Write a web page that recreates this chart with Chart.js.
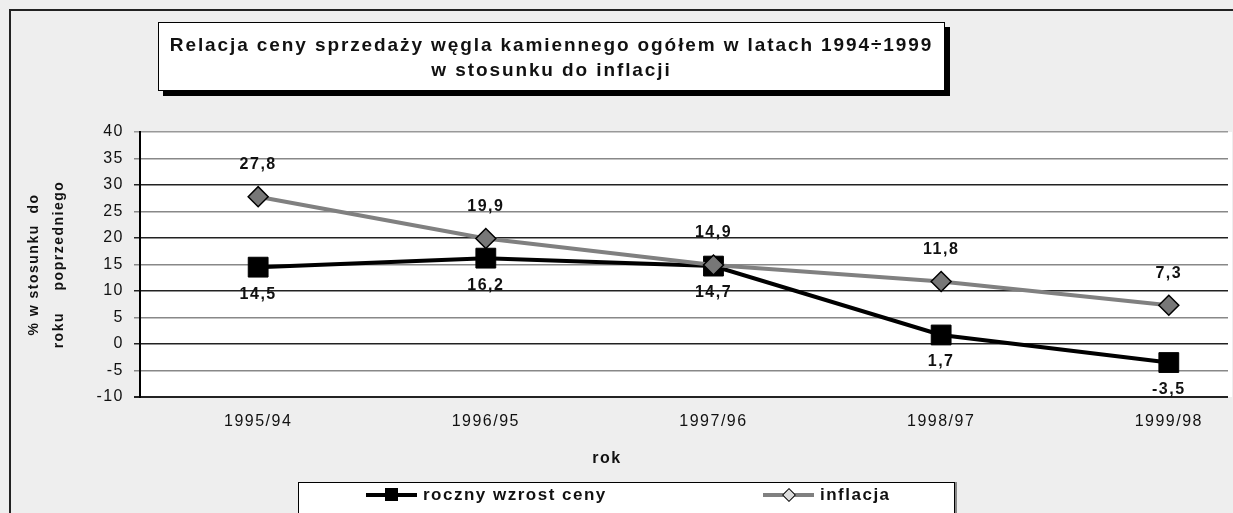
<!DOCTYPE html>
<html>
<head>
<meta charset="utf-8">
<script src="https://cdn.jsdelivr.net/npm/chart.js@4.4.1/dist/chart.umd.min.js"></script>
<style>
  html, body { margin: 0; padding: 0; width: 1233px; height: 513px; overflow: hidden; background: #eeeeee; font-family: "Liberation Sans", Arial, sans-serif; }
  #frame { position: absolute; left: 9px; top: 9px; width: 1300px; height: 600px; border: 2px solid #222; }
  #chart { position: absolute; left: 0; top: 0; }
  #title { position: absolute; left: 158px; top: 22px; width: 785px; height: 58px; padding-top: 9px; background: #fff; border: 1px solid #000; box-shadow: 5px 5px 0 #000; text-align: center; font-weight: bold; font-size: 19px; letter-spacing: 1.9px; line-height: 25px; color: #111; }
  #legend { position: absolute; left: 298px; top: 482px; width: 655px; height: 50px; background: #fff; border: 1px solid #000; box-shadow: 2px 0 0 #888; }
  .item { position: absolute; top: 2px; height: 20px; display: flex; align-items: center; font-weight: bold; font-size: 17px; letter-spacing: 1.5px; color: #111; }
  .sw { position: relative; width: 51px; height: 20px; margin-right: 6px; }
  .sw .ln { position: absolute; left: 0; right: 0; top: 8px; height: 4px; }
  .sw .sq { position: absolute; left: 19px; top: 3px; width: 13px; height: 13px; background: #000; }
  .sw .dm { position: absolute; left: 21px; top: 5px; width: 8px; height: 8px; background: #ddd; border: 1.5px solid #000; transform: rotate(45deg); }
</style>
</head>
<body>
<div id="frame"></div>
<canvas id="chart" width="1233" height="513"></canvas>
<div id="title">Relacja ceny sprzedaży węgla kamiennego ogółem w latach 1994÷1999<br>w stosunku do inflacji</div>
<div id="legend"></div>
<script>
const years = ['1995/94', '1996/95', '1997/96', '1998/97', '1999/98'];
const rocznyWzrost = [14.5, 16.2, 14.7, 1.7, -3.5];
const inflacja = [27.8, 19.9, 14.9, 11.8, 7.3];
const yMin = -10;
const yMax = 40;
const yStep = 5;
const seriesNames = ['roczny wzrost ceny', 'inflacja'];

const fontFamily = '"Liberation Sans", Arial, sans-serif';
Chart.defaults.font.family = fontFamily;
Chart.defaults.color = '#111';

// old excel look: wide letter spacing on every canvas text
const spacing = {
    id: 'spacing',
    beforeUpdate(chart) { chart.ctx.letterSpacing = '1.5px'; },
    beforeDraw(chart) {
        const ctx = chart.ctx;
        const a = chart.chartArea;
        ctx.letterSpacing = '1.5px';
        ctx.save();
        ctx.fillStyle = '#fff';
        ctx.fillRect(a.left, a.top, a.right - a.left + 4, a.bottom - a.top);
        ctx.restore();
    }
};

const valueLabels = {
    id: 'valueLabels',
    afterDatasetsDraw(chart) {
        const ctx = chart.ctx;
        ctx.save();
        ctx.font = 'bold 16px ' + fontFamily;
        ctx.fillStyle = '#111';
        ctx.textAlign = 'center';
        ctx.textBaseline = 'middle';
        chart.data.datasets.forEach((ds, i) => {
            const meta = chart.getDatasetMeta(i);
            meta.data.forEach((pt, j) => {
                const txt = ds.data[j].y.toFixed(1).replace('.', ',');
                ctx.fillText(txt, pt.x, pt.y + ds.labelOffset);
            });
        });
        ctx.fillText('rok', 607, 459);
        ctx.restore();
    }
};

const chart = new Chart(document.getElementById('chart'), {
    type: 'line',
    data: {
        datasets: [{
            label: seriesNames[0],
            data: rocznyWzrost.map((v, i) => ({ x: i, y: v })),
            borderColor: '#000',
            borderWidth: 4,
            pointStyle: 'rect',
            pointRadius: 14,
            pointBackgroundColor: '#000',
            pointBorderColor: '#000',
            pointBorderWidth: 1,
            tension: 0,
            order: 1,
            labelOffset: 27
        }, {
            label: seriesNames[1],
            data: inflacja.map((v, i) => ({ x: i, y: v })),
            borderColor: '#808080',
            borderWidth: 4,
            pointStyle: 'rectRot',
            pointRadius: 10,
            pointBackgroundColor: '#777',
            pointBorderColor: '#000',
            pointBorderWidth: 1.5,
            tension: 0,
            order: 0,
            labelOffset: -32
        }]
    },
    options: {
        responsive: false,
        animation: false,
        devicePixelRatio: 1,
        layout: { autoPadding: false, padding: { left: 22, top: 132, right: 5, bottom: 0 } },
        plugins: {
            legend: { display: false },
            tooltip: { enabled: false }
        },
        scales: {
            x: {
                type: 'linear',
                min: -0.519,
                max: 4.26,
                grid: { display: false },
                border: { display: false },
                afterBuildTicks: scale => { scale.ticks = years.map((_, i) => ({ value: i })); },
                afterFit: scale => {
                    scale.height = 116;
                    scale.paddingLeft = 0;
                    scale.paddingRight = 0;
                },
                ticks: {
                    autoSkip: false,
                    maxRotation: 0,
                    padding: 7,
                    font: { size: 16 },
                    color: '#111',
                    callback: v => years[v]
                }
            },
            y: {
                min: yMin,
                max: yMax,
                afterFit: scale => { scale.width = 118; },
                border: { color: '#000', width: 2 },
                grid: {
                    drawTicks: true,
                    tickLength: 6,
                    color: c => {
                        const v = c.tick ? c.tick.value : 0;
                        if (v === yMax) return '#999';
                        return v % 10 === 0 ? '#222' : '#888';
                    },
                    lineWidth: c => (c.tick && c.tick.value === yMin ? 2 : 1.5)
                },
                ticks: {
                    stepSize: yStep,
                    padding: 10,
                    font: { size: 16 },
                    color: '#111'
                },
                title: {
                    display: true,
                    text: ['% w stosunku  do', 'roku    poprzedniego'],
                    font: { size: 14, weight: 'bold', lineHeight: 25 / 14 },
                    padding: { top: 0, bottom: 0 },
                    color: '#111'
                }
            }
        }
    },
    plugins: [spacing, valueLabels]
});

// html legend, built from the datasets
const legend = document.getElementById('legend');
const legendLeft = [67, 464];
chart.data.datasets.forEach((ds, i) => {
    const item = document.createElement('div');
    item.className = 'item';
    item.style.left = legendLeft[i] + 'px';
    const sw = document.createElement('div');
    sw.className = 'sw';
    const ln = document.createElement('div');
    ln.className = 'ln';
    ln.style.background = ds.borderColor;
    const mk = document.createElement('div');
    mk.className = ds.pointStyle === 'rect' ? 'sq' : 'dm';
    sw.appendChild(ln);
    sw.appendChild(mk);
    item.appendChild(sw);
    item.appendChild(document.createTextNode(ds.label));
    legend.appendChild(item);
});
</script>
</body>
</html>
